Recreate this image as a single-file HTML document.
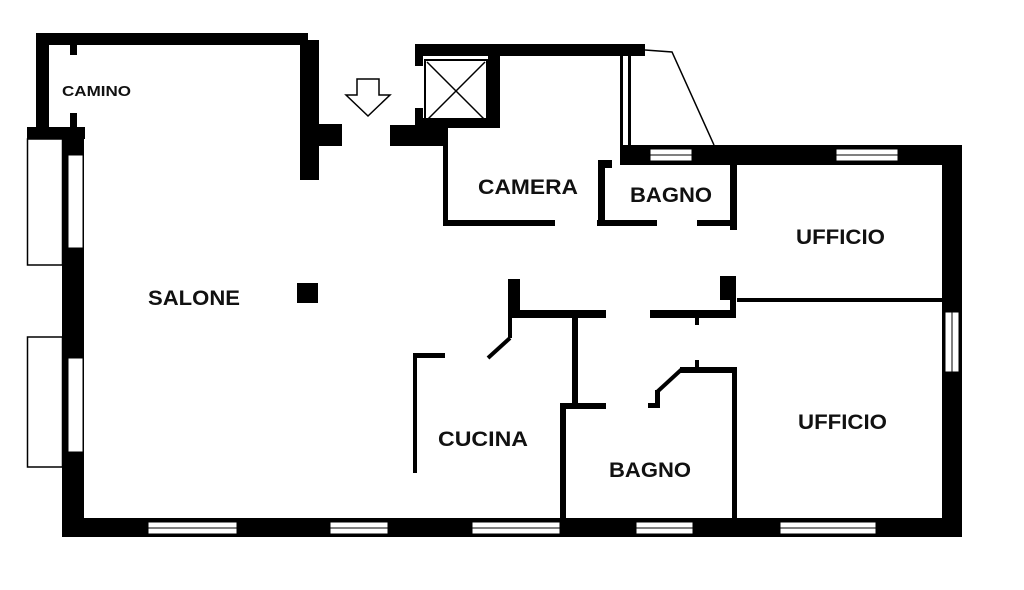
<!DOCTYPE html>
<html><head><meta charset="utf-8"><style>
html,body{margin:0;padding:0;background:#fff;}
svg{display:block;}
text{font-family:"Liberation Sans",sans-serif;font-weight:bold;fill:#111;}
</style></head><body>
<svg width="1024" height="590" viewBox="0 0 1024 590" xmlns="http://www.w3.org/2000/svg">
<g fill="#000">
<rect x="36" y="33" width="272" height="12"/>
<rect x="36" y="33" width="13" height="100"/>
<rect x="70" y="45" width="7" height="10"/>
<rect x="70" y="113" width="7" height="15"/>
<rect x="27" y="127" width="58" height="12"/>
<rect x="62" y="127" width="22" height="410"/>
<rect x="300" y="40" width="19" height="140"/>
<rect x="300" y="124" width="42" height="22"/>
<rect x="415" y="44" width="230" height="12"/>
<rect x="415" y="44" width="8" height="22"/>
<rect x="415" y="108" width="8" height="20"/>
<rect x="390" y="125" width="55" height="21"/>
<rect x="488" y="56" width="12" height="62"/>
<rect x="415" y="118" width="85" height="10"/>
<rect x="443" y="128" width="5" height="97"/>
<rect x="443" y="220" width="112" height="6"/>
<rect x="597" y="220" width="60" height="6"/>
<rect x="697" y="220" width="40" height="6"/>
<rect x="620" y="56" width="3" height="94"/>
<rect x="628" y="56" width="3" height="94"/>
<rect x="620" y="145" width="342" height="20"/>
<rect x="598" y="160" width="14" height="8"/>
<rect x="598" y="160" width="7" height="65"/>
<rect x="730" y="160" width="7" height="70"/>
<rect x="942" y="145" width="20" height="392"/>
<rect x="737" y="298" width="205" height="4"/>
<rect x="62" y="518" width="900" height="19"/>
<rect x="508" y="279" width="12" height="36"/>
<rect x="508" y="310" width="98" height="8"/>
<rect x="508" y="318" width="4" height="20"/>
<rect x="650" y="310" width="86" height="8"/>
<rect x="720" y="276" width="16" height="24"/>
<rect x="730" y="276" width="6" height="42"/>
<rect x="695" y="318" width="4" height="7"/>
<rect x="572" y="318" width="6" height="88"/>
<rect x="560" y="403" width="46" height="6"/>
<rect x="560" y="403" width="6" height="117"/>
<rect x="413" y="353" width="32" height="5"/>
<rect x="413" y="353" width="4" height="120"/>
<rect x="680" y="367" width="56" height="6"/>
<rect x="695" y="360" width="4" height="8"/>
<rect x="732" y="367" width="5" height="153"/>
<rect x="655" y="390" width="5" height="17"/>
<rect x="648" y="403" width="12" height="5"/>
<rect x="297" y="283" width="21" height="20"/>
</g>
<g stroke="#000" fill="none">
<line x1="488" y1="358" x2="510" y2="338" stroke-width="4"/>
<line x1="657" y1="392" x2="682" y2="369" stroke-width="4"/>
<polyline points="645,50 672,52 714,145" stroke-width="1.5"/>
<rect x="425" y="60" width="62" height="62" stroke-width="2"/>
<line x1="427" y1="62" x2="485" y2="120" stroke-width="1.5"/>
<line x1="485" y1="62" x2="427" y2="120" stroke-width="1.5"/>
<polygon points="357,79 379,79 379,95 390,95 368,116 346,95 357,95" stroke-width="1.5"/>
<rect x="27.5" y="139" width="35" height="126" stroke-width="1.5" fill="#fff"/>
<rect x="27.5" y="337" width="35" height="130" stroke-width="1.5" fill="#fff"/>
</g>
<g fill="#fff" stroke="#000" stroke-width="1">
<rect x="68" y="155" width="15" height="93"/>
<rect x="68" y="358" width="15" height="94"/>
<rect x="148" y="522" width="89" height="12"/>
<rect x="330" y="522" width="58" height="12"/>
<rect x="472" y="522" width="88" height="12"/>
<rect x="636" y="522" width="57" height="12"/>
<rect x="780" y="522" width="96" height="12"/>
<rect x="650" y="149" width="42" height="12"/>
<rect x="836" y="149" width="62" height="12"/>
<rect x="945" y="312" width="14" height="60"/>
</g>
<g stroke="#000" stroke-width="1">
<line x1="148" y1="528" x2="237" y2="528"/><line x1="330" y1="528" x2="388" y2="528"/>
<line x1="472" y1="528" x2="560" y2="528"/><line x1="636" y1="528" x2="693" y2="528"/>
<line x1="780" y1="528" x2="876" y2="528"/><line x1="650" y1="155" x2="692" y2="155"/>
<line x1="836" y1="155" x2="898" y2="155"/><line x1="952" y1="312" x2="952" y2="372"/>
</g>
<text x="62" y="96" font-size="15" textLength="69" lengthAdjust="spacingAndGlyphs">CAMINO</text>
<text x="148" y="305" font-size="21" textLength="92" lengthAdjust="spacingAndGlyphs">SALONE</text>
<text x="478" y="194" font-size="21" textLength="100" lengthAdjust="spacingAndGlyphs">CAMERA</text>
<text x="630" y="202" font-size="21" textLength="82" lengthAdjust="spacingAndGlyphs">BAGNO</text>
<text x="796" y="244" font-size="21" textLength="89" lengthAdjust="spacingAndGlyphs">UFFICIO</text>
<text x="438" y="446" font-size="21" textLength="90" lengthAdjust="spacingAndGlyphs">CUCINA</text>
<text x="609" y="477" font-size="21" textLength="82" lengthAdjust="spacingAndGlyphs">BAGNO</text>
<text x="798" y="429" font-size="21" textLength="89" lengthAdjust="spacingAndGlyphs">UFFICIO</text>
</svg>
</body></html>
